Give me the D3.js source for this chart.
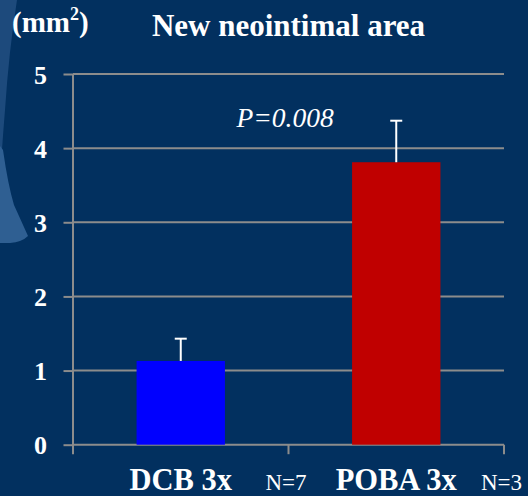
<!DOCTYPE html>
<html>
<head>
<meta charset="utf-8">
<script src="https://cdn.jsdelivr.net/npm/d3@7"></script>
<style>
  html, body { margin: 0; padding: 0; background: #02305f; }
  svg { display: block; }
</style>
</head>
<body>
<svg id="chart" width="528" height="496"></svg>
<script>
const categories = ["DCB 3x", "POBA 3x"];
const meanValues = [1.13, 3.81];
const errorUpper = [0.30, 0.56];
const sampleLabels = ["N=7", "N=3"];
const barColors = ["#0000ff", "#c00000"];
const yTickValues = [0, 1, 2, 3, 4, 5];
const titleText = "New neointimal area";
const unitText = "(mm";
const pValueText = "P=0.008";

const FONT = "'Liberation Serif', 'Times New Roman', Times, serif";
const W = 528, H = 496;
const svg = d3.select("#chart").attr("font-family", FONT);

// background
svg.append("rect").attr("width", W).attr("height", H).attr("fill", "#02305f");
// decorative lighter shapes on left edge
svg.append("path")
  .attr("d", "M0,0 L17,0 Q9,50 5,110 Q3,135 2,150 L0,150 Z")
  .attr("fill", "#1d4a7c");
svg.append("path")
  .attr("d", "M0,146 L3,150 Q8,185 14,205 L28,236 Q22,242 10,243 L0,243 Z")
  .attr("fill", "#2f5f92");

const x = d3.scaleBand().domain(categories).range([73, 504]).padding(0);
const y = d3.scaleLinear().domain([0, 5]).range([444.7, 74]);
const gridColor = "#8c8c8c";
const tickLen = 9.5;

// y axis ticks and labels
const yAxis = d3.axisLeft(y).tickValues(yTickValues).tickSize(tickLen).tickFormat(d3.format("d"));
const gy = svg.append("g").attr("transform", "translate(73,0)").call(yAxis)
  .attr("font-family", FONT);
gy.select(".domain").remove();
gy.selectAll(".tick line").attr("stroke", gridColor).attr("stroke-width", 2);
gy.selectAll(".tick text")
  .attr("x", -26)
  .attr("dy", "0.35em")
  .attr("fill", "#ffffff")
  .style("font-family", FONT)
  .style("font-size", "26px")
  .style("font-weight", "bold");

// gridlines
svg.append("g").selectAll("line")
  .data(yTickValues.filter(d => d > 0))
  .join("line")
  .attr("x1", 73).attr("x2", x.range()[1])
  .attr("y1", d => y(d)).attr("y2", d => y(d))
  .attr("stroke", gridColor).attr("stroke-width", 2);

// y axis line
svg.append("line")
  .attr("x1", 73).attr("x2", 73)
  .attr("y1", y(5)).attr("y2", y(0) + tickLen)
  .attr("stroke", gridColor).attr("stroke-width", 2);

// x axis line
svg.append("line")
  .attr("x1", 73).attr("x2", x.range()[1])
  .attr("y1", y(0)).attr("y2", y(0))
  .attr("stroke", gridColor).attr("stroke-width", 2);
// x ticks at band boundaries
svg.append("g").selectAll("line")
  .data(categories)
  .join("line")
  .attr("x1", d => x(d) + x.bandwidth()).attr("x2", d => x(d) + x.bandwidth())
  .attr("y1", y(0)).attr("y2", y(0) + tickLen)
  .attr("stroke", gridColor).attr("stroke-width", 2);

// bars
const barW = x.bandwidth() * 0.41;
svg.append("g").selectAll("rect")
  .data(categories)
  .join("rect")
  .attr("x", d => x(d) + x.bandwidth() / 2 - barW / 2)
  .attr("width", barW)
  .attr("y", (d, i) => y(meanValues[i]))
  .attr("height", (d, i) => y(0) - y(meanValues[i]))
  .attr("fill", (d, i) => barColors[i]);

// error bars (upper only)
const eb = svg.append("g").attr("stroke", "#ffffff").attr("stroke-width", 2);
categories.forEach((c, i) => {
  const cx = x(c) + x.bandwidth() / 2;
  eb.append("line").attr("x1", cx).attr("x2", cx)
    .attr("y1", y(meanValues[i])).attr("y2", y(meanValues[i] + errorUpper[i]));
  eb.append("line").attr("x1", cx - 6).attr("x2", cx + 6)
    .attr("y1", y(meanValues[i] + errorUpper[i])).attr("y2", y(meanValues[i] + errorUpper[i]));
});

function styleText(sel, size, weight, italic) {
  sel.attr("fill", "#ffffff")
    .style("font-family", FONT)
    .style("font-size", size + "px")
    .style("font-weight", weight || "normal")
    .style("font-style", italic ? "italic" : "normal");
  return sel;
}

// category labels
styleText(svg.append("g").selectAll("text")
  .data(categories)
  .join("text")
  .attr("x", d => x(d) + x.bandwidth() / 2)
  .attr("y", 489.5)
  .attr("text-anchor", "middle")
  .text(d => d), 30.5, "bold");

// N labels
styleText(svg.append("g").selectAll("text")
  .data(categories)
  .join("text")
  .attr("x", d => x(d) + x.bandwidth() - 23)
  .attr("y", 490)
  .attr("text-anchor", "start")
  .text((d, i) => sampleLabels[i]), 23);

// title
styleText(svg.append("text")
  .attr("x", 288.5).attr("y", 35.5)
  .attr("text-anchor", "middle")
  .text(titleText), 31, "bold");

// unit label
const unit = styleText(svg.append("text")
  .attr("x", 12).attr("y", 32), 29, "bold");
unit.append("tspan").text(unitText);
unit.append("tspan").attr("dy", -12).style("font-size", "18px").text("2");
unit.append("tspan").attr("dy", 12).text(")");

// p-value
styleText(svg.append("text")
  .attr("x", 236.5).attr("y", 127)
  .text(pValueText), 27.5, "normal", true);
</script>
</body>
</html>
